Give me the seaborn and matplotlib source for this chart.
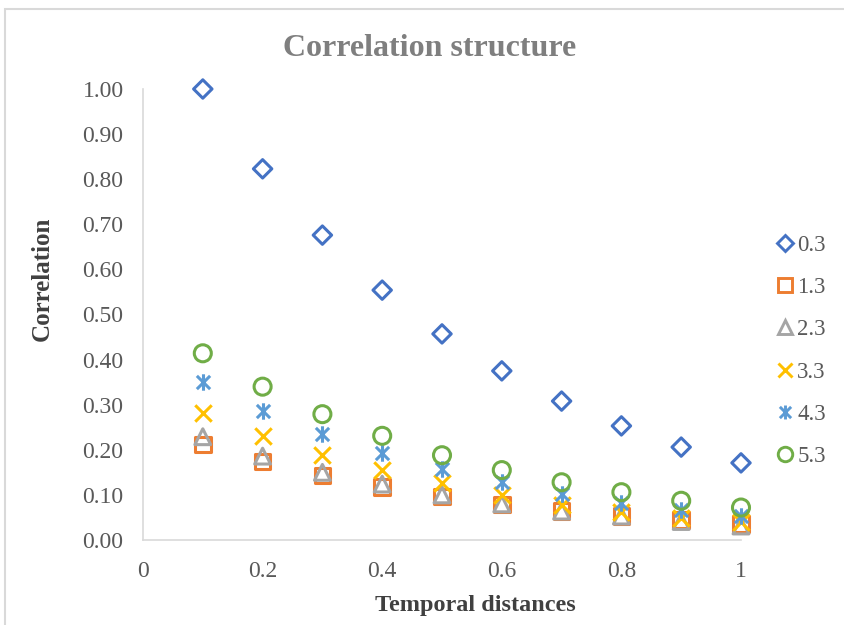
import matplotlib
matplotlib.use("Agg")
import matplotlib.pyplot as plt
import seaborn as sns
import pandas as pd
from matplotlib.path import Path
from matplotlib.lines import Line2D
from matplotlib.patches import Rectangle

sns.set_theme(style="white")
plt.rcParams['font.family'] = ['Liberation Serif', 'DejaVu Serif']

distances = [0.1, 0.2, 0.3, 0.4, 0.5, 0.6, 0.7, 0.8, 0.9, 1.0]
series_names = ["0.3", "1.3", "2.3", "3.3", "4.3", "5.3"]
s03 = [1.000, 0.823, 0.676, 0.554, 0.457, 0.375, 0.308, 0.253, 0.206, 0.171]
s13 = [0.212, 0.174, 0.143, 0.117, 0.096, 0.079, 0.064, 0.053, 0.044, 0.035]
s23 = [0.229, 0.186, 0.150, 0.124, 0.100, 0.080, 0.064, 0.053, 0.041, 0.031]
s33 = [0.281, 0.231, 0.189, 0.155, 0.126, 0.100, 0.078, 0.061, 0.049, 0.040]
s43 = [0.350, 0.287, 0.235, 0.194, 0.157, 0.129, 0.103, 0.083, 0.066, 0.053]
s53 = [0.414, 0.340, 0.279, 0.231, 0.188, 0.155, 0.128, 0.106, 0.087, 0.072]
values = [s03, s13, s23, s33, s43, s53]
colors = ["#4472C4", "#ED7D31", "#A5A5A5", "#FFC000", "#5B9BD5", "#70AD47"]
y_ticks = [0.0, 0.1, 0.2, 0.3, 0.4, 0.5, 0.6, 0.7, 0.8, 0.9, 1.0]
x_ticks = [0, 0.2, 0.4, 0.6, 0.8, 1]
x_tick_labels = ["0", "0.2", "0.4", "0.6", "0.8", "1"]

star = Path([(-0.5, -0.5), (0.5, 0.5), (-0.5, 0.5), (0.5, -0.5), (0, -0.62), (0, 0.62)],
            [Path.MOVETO, Path.LINETO, Path.MOVETO, Path.LINETO, Path.MOVETO, Path.LINETO])
markers = ["D", "s", "^", "x", star, "o"]
sizes = [88, 125, 130, 140, 140, 150]

frames = []
for name, vals in zip(series_names, values):
    frames.append(pd.DataFrame({"distance": distances, "corr": vals, "series": name}))
df = pd.concat(frames, ignore_index=True)

fig = plt.figure(figsize=(8.45, 6.25), dpi=100)
ax = fig.add_axes([143 / 845, 85 / 625, 598 / 845, 451 / 625])

for name, c, m, sz in zip(series_names, colors, markers, sizes):
    sub = df[df["series"] == name]
    sns.scatterplot(data=sub, x="distance", y="corr", marker=m, s=sz, color=c, ax=ax,
                    legend=False, zorder=3, clip_on=False)
    pts = ax.collections[-1]
    if m == "x" or isinstance(m, Path):
        pts.set_facecolor(c)
    else:
        pts.set_facecolor("none")
    pts.set_edgecolor(c)
    pts.set_linewidth(2.2)

ax.set_xlim(0, 1)
ax.set_ylim(0, 1)
ax.set_yticks(y_ticks)
ax.set_yticklabels([f"{v:.2f}" for v in y_ticks])
ax.set_xticks(x_ticks)
ax.set_xticklabels(x_tick_labels)
ax.tick_params(axis="both", length=0, labelsize=17, labelcolor="#595959")
ax.tick_params(axis="y", pad=14)
ax.tick_params(axis="x", pad=15)
for side in ["top", "right"]:
    ax.spines[side].set_visible(False)
for side in ["bottom", "left"]:
    ax.spines[side].set_color("#D9D9D9")
    ax.spines[side].set_linewidth(1.2)
ax.grid(False)

ax.set_xlabel("Temporal distances", fontsize=17.5, fontweight="bold", color="#404040")
ax.xaxis.set_label_coords((475 - 143) / 598, -(606 - 540) / 451)
ax.xaxis.label.set_va("center")
ax.set_ylabel("Correlation", fontsize=18, fontweight="bold", color="#404040")
ax.yaxis.set_label_coords(-(143 - 42) / 598, (540 - 279) / 451)
ax.yaxis.label.set_va("center")
fig.text(430 / 845, 1 - 48 / 625, "Correlation structure", ha="center", va="center",
         fontsize=23, fontweight="bold", color="#7F7F7F")

handles = []
for name, c, m, sz in zip(series_names, colors, markers, sizes):
    filled = (m == "x") or isinstance(m, Path)
    handles.append(Line2D([], [], linestyle="", marker=m, markersize=sz ** 0.5 * 0.85,
                          markeredgecolor=c, markerfacecolor=c if filled else "none",
                          markeredgewidth=2.1, label=name))
leg = ax.legend(handles=handles, loc="center left", bbox_to_anchor=(772 / 845, 1 - 351 / 625),
                bbox_transform=fig.transFigure, frameon=False, fontsize=16.5,
                labelspacing=0.93, handletextpad=0.0, handlelength=1.1, borderaxespad=0,
                borderpad=0)
for t in leg.get_texts():
    t.set_color("#595959")

fig.patches.append(Rectangle((5 / 845, -0.05), 1.2, 1 - 9 / 625 + 0.05, transform=fig.transFigure,
                             fill=False, edgecolor="#D9D9D9", linewidth=1.5))

fig.savefig("out.png", dpi=100)
